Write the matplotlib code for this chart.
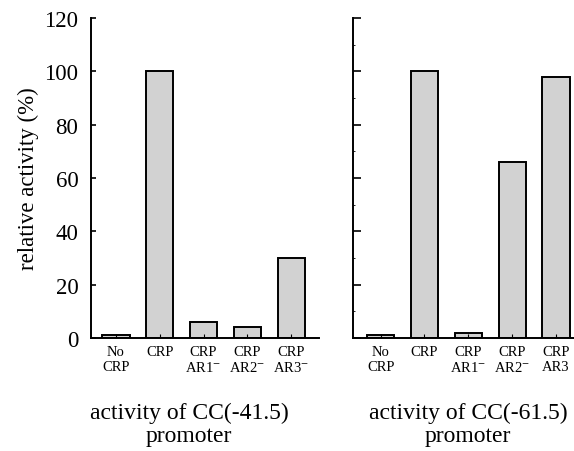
import matplotlib
matplotlib.use('Agg')
import matplotlib.pyplot as plt
from matplotlib.ticker import MultipleLocator

plt.rcParams['font.family'] = ['Liberation Serif', 'DejaVu Serif']
plt.rcParams['mathtext.fontset'] = 'stix'

# data
labels_41 = ['No\nCRP', 'CRP', 'CRP\nAR1$^{-}$', 'CRP\nAR2$^{-}$', 'CRP\nAR3$^{-}$']
values_41 = [1, 100, 6, 4, 30]
labels_61 = ['No\nCRP', 'CRP', 'CRP\nAR1$^{-}$', 'CRP\nAR2$^{-}$', 'CRP\nAR3']
values_61 = [1.2, 100, 2, 66, 98]
titles = ['activity of CC(-41.5)\npromoter', 'activity of CC(-61.5)\npromoter']
yticks = [0, 20, 40, 60, 80, 100, 120]

fig = plt.figure(figsize=(5.74, 4.52), dpi=100)
ax1 = fig.add_axes([0.1585, 0.25, 0.397, 0.708])
ax2 = fig.add_axes([0.615, 0.25, 0.385, 0.708])

panels = [(ax1, labels_41, values_41, (-0.57, 4.63)),
          (ax2, labels_61, values_61, (-0.63, 4.41))]
for ax, labels, values, xlim in panels:
    x = range(len(values))
    ax.bar(x, values, width=0.62, color='#d2d2d2', edgecolor='black', linewidth=1.4)
    ax.set_xlim(*xlim)
    ax.set_ylim(0, 120)
    ax.set_yticks(yticks)
    ax.set_xticks(list(x))
    ax.set_xticklabels(labels, fontsize=10.5, linespacing=1.2)
    ax.tick_params(axis='x', direction='in', length=3, width=0.8, pad=5)
    for s in ['top', 'right']:
        ax.spines[s].set_visible(False)
    for s in ['left', 'bottom']:
        ax.spines[s].set_linewidth(1.4)

ax1.tick_params(axis='y', direction='in', length=3.5, width=1.2, labelsize=16.5, pad=9)
ax1.set_ylabel('relative activity (%)', fontsize=16.5, labelpad=4)

ax2.yaxis.set_minor_locator(MultipleLocator(10))
ax2.tick_params(axis='y', direction='in', length=6, width=1.2, labelleft=False)
ax2.tick_params(axis='y', which='minor', direction='in', length=1.5, width=0.6)

fig.text(189 / 574, 1 - 425 / 452, titles[0], ha='center', va='center', fontsize=17, linespacing=1.15)
fig.text(468 / 574, 1 - 425 / 452, titles[1], ha='center', va='center', fontsize=17, linespacing=1.15)

plt.savefig('out.png', dpi=100)
plt.close()
